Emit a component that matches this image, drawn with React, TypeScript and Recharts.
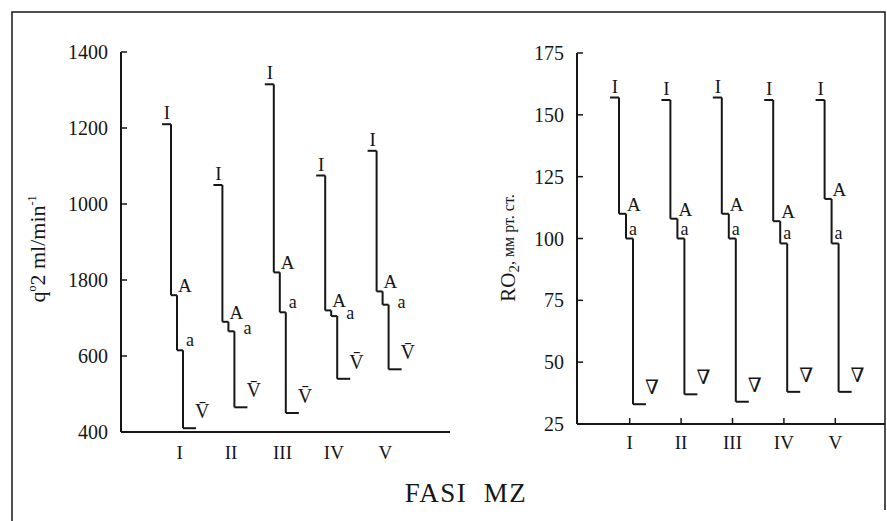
import React from 'react';
import { BarChart, Bar, XAxis, YAxis } from 'recharts';

const phases = ['I', 'II', 'III', 'IV', 'V'];

// left panel: qO2, ml/min
const qTicks = [400, 600, 800, 1000, 1200, 1400];
const qTickLabels = ['400', '600', '1800', '1000', '1200', '1400'];
const qI = [1210, 1050, 1315, 1075, 1140];
const qA = [760, 690, 820, 720, 770];
const qa = [615, 665, 715, 705, 735];
const qV = [410, 465, 450, 540, 565];

// right panel: pO2, mm Hg
const pTicks = [25, 50, 75, 100, 125, 150, 175];
const pTickLabels = ['25', '50', '75', '100', '125', '150', '175'];
const pI = [157, 156, 157, 156, 156];
const pA = [110, 108, 110, 107, 116];
const pa = [100, 100, 100, 98, 98];
const pV = [33, 37, 34, 38, 38];

const ink = '#161616';
const serif = '"Liberation Serif", "DejaVu Serif", serif';

const buildRows = (I: number[], A: number[], a: number[], V: number[]) =>
  phases.map((name, i) => ({
    name,
    top: [A[i], I[i]],
    mid: [a[i], A[i]],
    low: [V[i], a[i]],
  }));

const qRows = buildRows(qI, qA, qa, qV);
const pRows = buildRows(pI, pA, pa, pV);

// first step: I level tick + drop to A
const TopStep = (props: any) => {
  const { x, y, height } = props;
  return (
    <g>
      <line x1={x - 9} y1={y} x2={x} y2={y} stroke={ink} strokeWidth={2} />
      <line x1={x} y1={y} x2={x} y2={y + height} stroke={ink} strokeWidth={2} />
      <text x={x - 4} y={y - 5} textAnchor="middle" fontSize={19} fontFamily={serif} fill={ink}>
        I
      </text>
    </g>
  );
};

// second step: A level, drop to a
const MidStep = (props: any) => {
  const { x, y, width, height } = props;
  return (
    <g>
      <line x1={x - width} y1={y} x2={x} y2={y} stroke={ink} strokeWidth={2} />
      <line x1={x} y1={y} x2={x} y2={y + height} stroke={ink} strokeWidth={2} />
      <text x={x + 1} y={y - 3} fontSize={19} fontFamily={serif} fill={ink}>
        A
      </text>
    </g>
  );
};

// last step: a level, drop to the minimum
const makeLowStep = (sym: string, aDx: number) => (props: any) => {
  const { x, y, width, height, payload } = props;
  const bottom = y + height;
  const span = payload.low[1] - payload.low[0];
  const unit = span > 0 ? height / span : 0;
  const gapA = (payload.mid[1] - payload.low[1]) * unit;
  // when A and a sit close together, the 'a' goes to the right of the 'A'
  const crowded = gapA < 18;
  const ax = crowded ? x + 9 : x + aDx - (aDx < 0 ? 0 : 0);
  const ay = crowded ? y + 3 : y - 4;
  return (
    <g>
      <line x1={x - width} y1={y} x2={x} y2={y} stroke={ink} strokeWidth={2} />
      <line x1={x} y1={y} x2={x} y2={bottom} stroke={ink} strokeWidth={2} />
      <line x1={x} y1={bottom} x2={x + 13} y2={bottom} stroke={ink} strokeWidth={2} />
      <text x={ax} y={ay} fontSize={18} fontFamily={serif} fill={ink}>
        a
      </text>
      <text x={x + 12} y={bottom - 10} fontSize={20} fontFamily={serif} fill={ink}>
        {sym}
      </text>
    </g>
  );
};

const makeYTick = (labels: string[], ticks: number[]) => (props: any) => {
  const { x, y, payload } = props;
  const i = ticks.indexOf(payload.value);
  return (
    <g>
      <line x1={x} y1={y} x2={x + 6} y2={y} stroke={ink} strokeWidth={1.5} />
      <text x={x - 13} y={y} dy="0.35em" textAnchor="end" fontSize={20} fontFamily={serif} fill={ink}>
        {labels[i]}
      </text>
    </g>
  );
};

const makeXTick = (offset: number, marks: boolean) => (props: any) => {
  const { x, y, payload } = props;
  return (
    <g>
      {marks && <line x1={x} y1={y} x2={x} y2={y - 6} stroke={ink} strokeWidth={1.5} />}
      <text x={x} y={y + offset} textAnchor="middle" fontSize={19} fontFamily={serif} fill={ink}>
        {payload.value}
      </text>
    </g>
  );
};

const QLabel = () => (
  <text
    transform="rotate(-90, 45, 249)"
    x={45}
    y={249}
    textAnchor="middle"
    fontSize={22}
    fontFamily={serif}
    fill={ink}
  >
    q
    <tspan fontSize={12} dy={-9}>o</tspan>
    <tspan fontSize={22} dy={9}>2 ml/min</tspan>
    <tspan fontSize={12} dy={-9}>-1</tspan>
  </text>
);

// right chart is placed at left=460, so coordinates are local
const PLabel = () => (
  <text
    transform="rotate(-90, 55, 248)"
    x={55}
    y={248}
    textAnchor="middle"
    fontSize={21}
    fontFamily={serif}
    fill={ink}
  >
    RO
    <tspan fontSize={15} dy={4}>2</tspan>
    <tspan fontSize={16} dy={-5}>, мм рт. ст.</tspan>
  </text>
);

export default function App() {
  return (
    <div style={{ position: 'absolute', left: 0, top: 0, width: 887, height: 521, background: '#fff' }}>
      <div style={{ position: 'absolute', left: 0, top: 0 }}>
        <BarChart
          width={455}
          height={521}
          data={qRows}
          margin={{ top: 52, right: 5, bottom: 59, left: 61 }}
          barSize={6}
          barGap={0}
        >
          <XAxis
            dataKey="name"
            height={30}
            padding={{ left: 33, right: 39 }}
            axisLine={{ stroke: ink, strokeWidth: 2 }}
            tickLine={false}
            tickSize={0}
            tickMargin={0}
            tick={makeXTick(27, false)}
            interval={0}
          />
          <YAxis
            width={60}
            domain={[400, 1400]}
            ticks={qTicks}
            axisLine={{ stroke: ink, strokeWidth: 2 }}
            tickLine={false}
            tickSize={0}
            tickMargin={0}
            tick={makeYTick(qTickLabels, qTicks)}
            label={<QLabel />}
          />
          <Bar dataKey="top" shape={TopStep} isAnimationActive={false} />
          <Bar dataKey="mid" shape={MidStep} isAnimationActive={false} />
          <Bar dataKey="low" shape={makeLowStep('V\u0304', 3)} isAnimationActive={false} />
        </BarChart>
      </div>

      <div style={{ position: 'absolute', left: 460, top: 0 }}>
        <BarChart
          width={427}
          height={521}
          data={pRows}
          margin={{ top: 53, right: 2, bottom: 67, left: 57 }}
          barSize={7}
          barGap={0}
        >
          <XAxis
            dataKey="name"
            height={30}
            padding={{ left: 27, right: 24 }}
            axisLine={{ stroke: ink, strokeWidth: 2 }}
            tickLine={false}
            tickSize={0}
            tickMargin={0}
            tick={makeXTick(25, true)}
            interval={0}
          />
          <YAxis
            width={60}
            domain={[25, 175]}
            ticks={pTicks}
            axisLine={{ stroke: ink, strokeWidth: 2 }}
            tickLine={false}
            tickSize={0}
            tickMargin={0}
            tick={makeYTick(pTickLabels, pTicks)}
            label={<PLabel />}
          />
          <Bar dataKey="top" shape={TopStep} isAnimationActive={false} />
          <Bar dataKey="mid" shape={MidStep} isAnimationActive={false} />
          <Bar dataKey="low" shape={makeLowStep('\u2207', -4)} isAnimationActive={false} />
        </BarChart>
      </div>

      <svg
        width={887}
        height={521}
        style={{ position: 'absolute', left: 0, top: 0, pointerEvents: 'none' }}
      >
        <polyline points="12,521 12,12 885,12 885,510" fill="none" stroke={ink} strokeWidth={1.5} />
        <text x={466} y={502} textAnchor="middle" fontSize={27} letterSpacing={1.5} fontFamily={serif} fill={ink} style={{ whiteSpace: 'pre' }}>
          {'FASI  MZ'}
        </text>
      </svg>
    </div>
  );
}
